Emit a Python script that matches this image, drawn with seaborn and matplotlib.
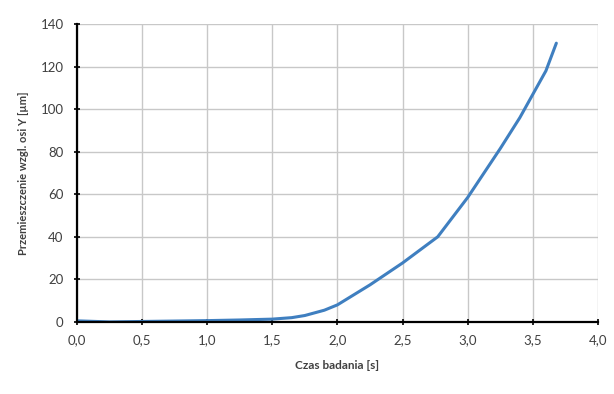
import seaborn as sns
import matplotlib.pyplot as plt
from matplotlib.ticker import MultipleLocator

sns.set_theme(style="whitegrid")
plt.rcParams['font.family'] = ['Lato', 'DejaVu Sans']

# data
czas = [0.0, 0.25, 0.5, 0.75, 1.0, 1.25, 1.5, 1.65, 1.75, 1.9, 2.0, 2.25, 2.5, 2.77,
        3.0, 3.25, 3.4, 3.5, 3.6, 3.68]
przem = [0.5, 0.0, 0.2, 0.4, 0.6, 0.9, 1.3, 2.0, 3.0, 5.5, 8.0, 17.4, 27.7, 40.0,
         58.5, 81.5, 96.0, 107.0, 118.0, 131.0]
x_ticks = [0.0, 0.5, 1.0, 1.5, 2.0, 2.5, 3.0, 3.5, 4.0]
x_labels = ['0,0', '0,5', '1,0', '1,5', '2,0', '2,5', '3,0', '3,5', '4,0']

fig = plt.figure(figsize=(6.14, 3.94), dpi=100)
ax = fig.add_axes([0.125, 0.183, 0.849, 0.756])

sns.lineplot(x=czas, y=przem, color='#3f7fc0', linewidth=2.2, ax=ax)

ax.set_xlim(0, 4.0)
ax.set_ylim(0, 140)
ax.set_xticks(x_ticks)
ax.set_xticklabels(x_labels)
ax.yaxis.set_major_locator(MultipleLocator(20))

ax.grid(True, which='major', color='#c8c8c8', linewidth=1.0)
ax.set_facecolor('white')
for s in ['top', 'right']:
    ax.spines[s].set_visible(False)
for s in ['left', 'bottom']:
    ax.spines[s].set_visible(True)
    ax.spines[s].set_color('black')
    ax.spines[s].set_linewidth(1.6)

ax.tick_params(axis='both', which='major', direction='inout', length=5, width=1.2,
               color='black', labelsize=9.5, labelcolor='#404040', bottom=True, left=True)
ax.tick_params(axis='y', pad=7)
ax.tick_params(axis='x', pad=6)

ax.set_xlabel('Czas badania [s]', fontsize=8.5, fontweight='bold', color='#404040', labelpad=10)
ax.set_ylabel('Przemieszczenie wzgl. osi Y [µm]', fontsize=8, fontweight='bold', color='#404040', labelpad=8)

fig.savefig('out.png', dpi=100)
